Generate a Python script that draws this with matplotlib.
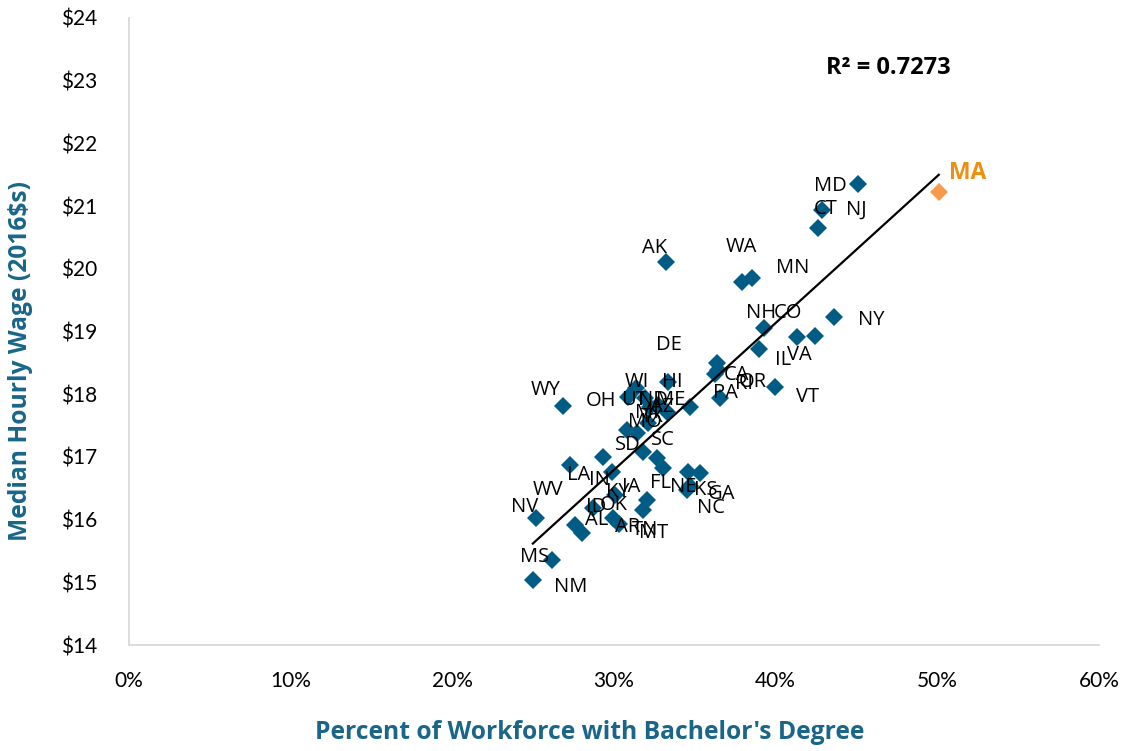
import numpy as np
import matplotlib
matplotlib.use("Agg")
import matplotlib.pyplot as plt
from matplotlib.ticker import FuncFormatter, MultipleLocator

# Share of workforce with a bachelor's degree (%) and median hourly wage (2016 $)
states = ["MD", "NJ", "CT", "AK", "WA", "MN", "NH", "CO", "IL", "VA", "NY",
          "DE", "CA", "RI", "PA", "OR", "VT", "WY", "OH", "WI", "HI", "UT",
          "ND", "AZ", "ME", "TX", "MI", "MO", "SD", "SC", "LA", "IN", "KY",
          "IA", "FL", "NE", "GA", "KS", "NC", "MT", "TN", "WV", "AL", "ID",
          "OK", "AR", "NV", "MS", "NM"]
bachelor_pct = [45.08, 42.86, 42.61, 33.21, 37.91, 38.53, 39.27, 41.31, 38.96, 42.42, 43.60,
                36.36, 36.24, 36.43, 36.55, 34.69, 39.95, 26.84, 30.86, 31.35, 33.33, 31.91,
                32.22, 33.27, 32.10, 32.71, 31.79, 31.42, 30.80, 32.65, 27.27, 29.31, 29.87,
                30.06, 33.02, 34.57, 35.31, 34.51, 34.69, 32.03, 31.79, 27.58, 28.01, 28.70,
                29.93, 30.30, 25.17, 26.16, 24.98]
median_wage = [21.35, 20.94, 20.65, 20.11, 19.79, 19.85, 19.06, 18.91, 18.72, 18.93, 19.23,
               18.50, 18.32, 18.39, 17.94, 17.80, 18.11, 17.81, 17.96, 18.10, 18.19, 17.94,
               17.80, 17.72, 17.54, 17.83, 17.08, 17.38, 17.43, 16.98, 16.87, 17.00, 16.76,
               16.39, 16.82, 16.76, 16.74, 16.47, 16.54, 16.31, 16.15, 15.91, 15.79, 16.19,
               16.03, 15.93, 16.03, 15.36, 15.04]

highlight_state = "MA"
highlight_pct = 50.09
highlight_wage = 21.22

r_squared_text = "R² = 0.7273"

# Label placement relative to each marker, in pixels (dx right, dy down)
label_offsets = {
    "MD": (-27, 2), "NJ": (34, 0), "CT": (8, -19), "AK": (-11, -14),
    "WA": (0, -35), "MN": (41, -10), "NH": (-3, -15), "CO": (-9, -24),
    "IL": (24, 11), "VA": (-15, 19), "NY": (37, 3), "DE": (-48, -18),
    "CA": (22, 1), "RI": (26, 14), "PA": (6, -5), "OR": (63, -25),
    "VT": (33, 10), "WY": (-17, -16), "OH": (-27, 4), "WI": (1, -6),
    "HI": (4, 0), "UT": (-11, 2), "ND": (3, -7), "AZ": (-5, -5),
    "ME": (23, -23), "TX": (-6, 12), "MI": (4, -39), "MO": (8, -11),
    "SD": (1, 15), "SC": (6, -18), "LA": (9, 10), "IN": (-3, 23),
    "KY": (6, 20), "IA": (16, -8), "FL": (-2, 15), "NE": (-5, 15),
    "GA": (22, 21), "KS": (19, 0), "NC": (21, 22), "MT": (7, 33),
    "TN": (2, 20), "WV": (-27, -35), "AL": (15, -13), "ID": (3, -1),
    "OK": (1, -13), "AR": (9, 3), "NV": (-11, -11), "MS": (-17, -3),
    "NM": (38, 7),
}

BLUE = "#005B85"
ORANGE = "#F79A4D"
ORANGE_TEXT = "#EE8F10"
TITLE_COLOR = "#1A6688"
SPINE = "#D9D9D9"

fig = plt.figure(figsize=(11.26, 7.51), dpi=100)
ax = fig.add_axes([129 / 1126, 106 / 751, 970 / 1126, 627 / 751])

ax.plot(bachelor_pct, median_wage, linestyle="none", marker="D", markersize=9.3,
        color=BLUE, markeredgewidth=0, zorder=2)
ax.plot([highlight_pct], [highlight_wage], linestyle="none", marker="D",
        markersize=9.3, color=ORANGE, markeredgewidth=0, zorder=2)

# Linear trend over all states
all_x = np.array(bachelor_pct + [highlight_pct])
all_y = np.array(median_wage + [highlight_wage])
slope, intercept = np.polyfit(all_x, all_y, 1)
xs = np.array([all_x.min(), all_x.max()])
ax.plot(xs, slope * xs + intercept, color="black", linewidth=1.6, zorder=3)

label_font = {"family": "Open Sans", "size": 14.5}
for name, px, wy in zip(states, bachelor_pct, median_wage):
    dx, dy = label_offsets[name]
    ax.annotate(name, (px, wy), xytext=(dx, -dy), textcoords="offset pixels",
                ha="center", va="center", color="black", zorder=4, **label_font)
ax.annotate(highlight_state, (highlight_pct, highlight_wage), xytext=(29, 19),
            textcoords="offset pixels", ha="center", va="center",
            color=ORANGE_TEXT, fontweight="bold", family="Open Sans", size=16.5, zorder=4)

ax.text(0.783, 0.921, r_squared_text, transform=ax.transAxes, ha="center",
        va="center", fontsize=17, fontweight="bold", family="Open Sans", color="black")

ax.set_xlim(0, 60)
ax.set_ylim(14, 24)
ax.xaxis.set_major_locator(MultipleLocator(10))
ax.yaxis.set_major_locator(MultipleLocator(1))
ax.xaxis.set_major_formatter(FuncFormatter(lambda v, _: f"{v:.0f}%"))
ax.yaxis.set_major_formatter(FuncFormatter(lambda v, _: f"${v:.0f}"))
ax.tick_params(length=0, labelsize=15, colors="black")
ax.tick_params(axis="y", pad=23)
ax.tick_params(axis="x", pad=19)
for lbl in ax.get_xticklabels() + ax.get_yticklabels():
    lbl.set_family("Lato")

for side in ("top", "right"):
    ax.spines[side].set_visible(False)
for side in ("left", "bottom"):
    ax.spines[side].set_color(SPINE)
    ax.spines[side].set_linewidth(1.3)

ax.set_xlabel("Percent of Workforce with Bachelor's Degree", fontsize=17.7,
              fontweight="bold", color=TITLE_COLOR, family="Open Sans",
              va="center", ha="center")
ax.set_ylabel("Median Hourly Wage (2016$s)", fontsize=17.7, fontweight="bold",
              color=TITLE_COLOR, family="Open Sans", va="center", ha="center")
ax.xaxis.set_label_coords(0.475, -0.140)
ax.yaxis.set_label_coords(-0.112, 0.453)

fig.savefig("out.png", dpi=100)
